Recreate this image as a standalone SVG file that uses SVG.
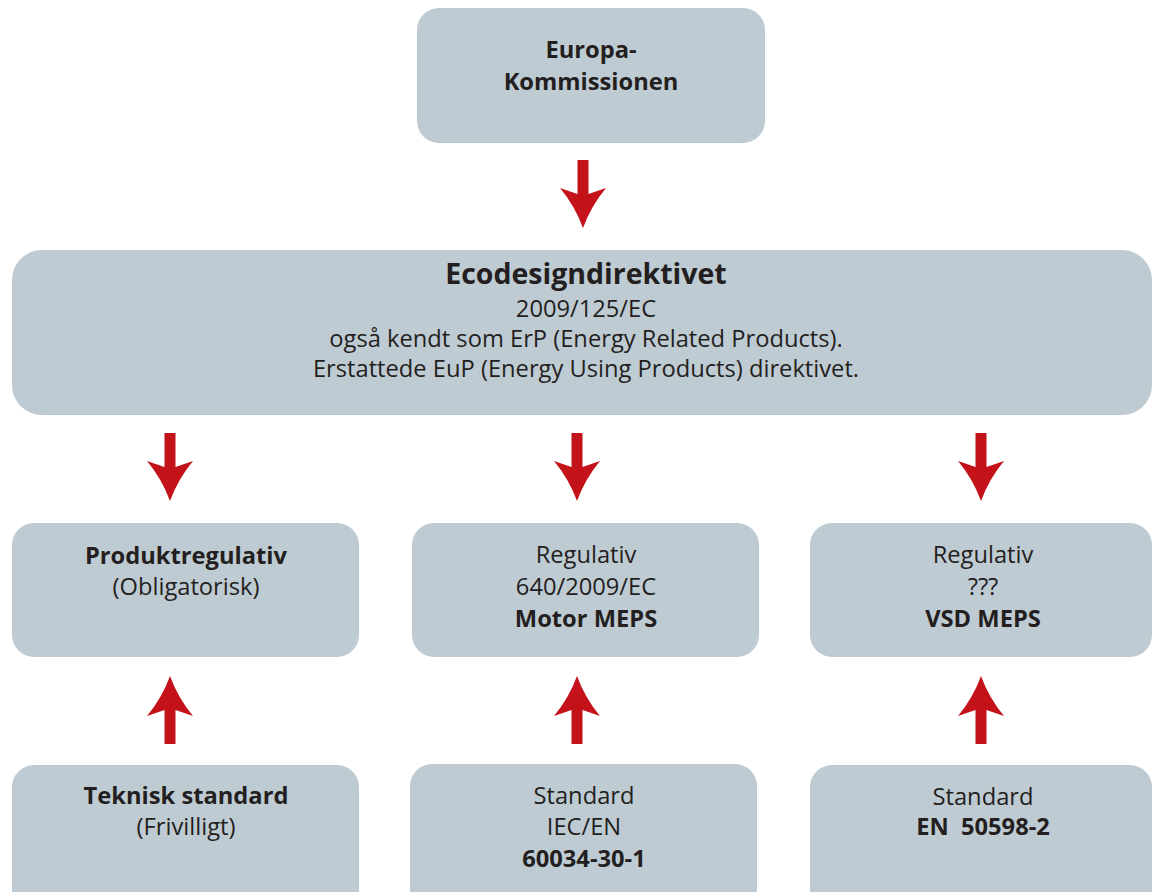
<svg xmlns="http://www.w3.org/2000/svg" xmlns:xlink="http://www.w3.org/1999/xlink" width="1152" height="892" viewBox="0 0 1152 892">
<defs>
<style>
.box{fill:#bfcbd3;}
.t{font-family:"Open Sans","Noto Sans",sans-serif;font-size:23.7px;fill:#231f20;text-anchor:middle;white-space:pre;}
.b{font-weight:bold;}
.title{font-size:28.5px;font-weight:bold;}
.arr{fill:#c4121a;}
</style>
<path id="arrow" d="M -5.5,-68 H 5.5 V -34 L 23,-40 Q 8,-22 0,0 Q -8,-22 -23,-40 L -5.5,-34 Z"/>
</defs>
<rect width="1152" height="892" fill="#ffffff"/>

<g id="europa-kommissionen">
<rect class="box" x="417" y="8" width="348" height="135" rx="22"/>
<text class="t b" x="591" y="58">Europa-</text>
<text class="t b" x="591" y="90">Kommissionen</text>
</g>

<g id="ecodesigndirektivet">
<rect class="box" x="12" y="250" width="1140" height="165" rx="30"/>
<text class="t title" x="586" y="284">Ecodesigndirektivet</text>
<text class="t" x="586" y="317">2009/125/EC</text>
<text class="t" x="586" y="347">også kendt som ErP (Energy Related Products).</text>
<text class="t" x="586" y="377">Erstattede EuP (Energy Using Products) direktivet.</text>
</g>

<g id="produktregulativ">
<rect class="box" x="12" y="523" width="347" height="134" rx="22"/>
<text class="t b" x="186" y="564">Produktregulativ</text>
<text class="t" x="186" y="595">(Obligatorisk)</text>
</g>

<g id="regulativ-motor">
<rect class="box" x="412" y="523" width="347" height="134" rx="22"/>
<text class="t" x="586" y="563">Regulativ</text>
<text class="t" x="586" y="595">640/2009/EC</text>
<text class="t b" x="586" y="627">Motor MEPS</text>
</g>

<g id="regulativ-vsd">
<rect class="box" x="810" y="523" width="342" height="134" rx="22"/>
<text class="t" x="983" y="563">Regulativ</text>
<text class="t" x="983" y="595">???</text>
<text class="t b" x="983" y="627">VSD MEPS</text>
</g>

<g id="teknisk-standard">
<rect class="box" x="12" y="765" width="347" height="160" rx="22"/>
<text class="t b" x="186" y="804">Teknisk standard</text>
<text class="t" x="186" y="835">(Frivilligt)</text>
</g>

<g id="standard-iec">
<rect class="box" x="410" y="764" width="347" height="160" rx="22"/>
<text class="t" x="584" y="804">Standard</text>
<text class="t" x="584" y="835">IEC/EN</text>
<text class="t b" x="584" y="867">60034-30-1</text>
</g>

<g id="standard-en">
<rect class="box" x="810" y="765" width="342" height="160" rx="22"/>
<text class="t" x="983" y="805">Standard</text>
<text class="t b" x="983" y="835">EN  50598-2</text>
</g>

<g id="connectors" class="arr">
<use xlink:href="#arrow" href="#arrow" transform="translate(583,228)"/>
<use xlink:href="#arrow" href="#arrow" transform="translate(170,501)"/>
<use xlink:href="#arrow" href="#arrow" transform="translate(577,501)"/>
<use xlink:href="#arrow" href="#arrow" transform="translate(981,501)"/>
<use xlink:href="#arrow" href="#arrow" transform="translate(170,676) rotate(180)"/>
<use xlink:href="#arrow" href="#arrow" transform="translate(577,676) rotate(180)"/>
<use xlink:href="#arrow" href="#arrow" transform="translate(981,676) rotate(180)"/>
</g>
</svg>
